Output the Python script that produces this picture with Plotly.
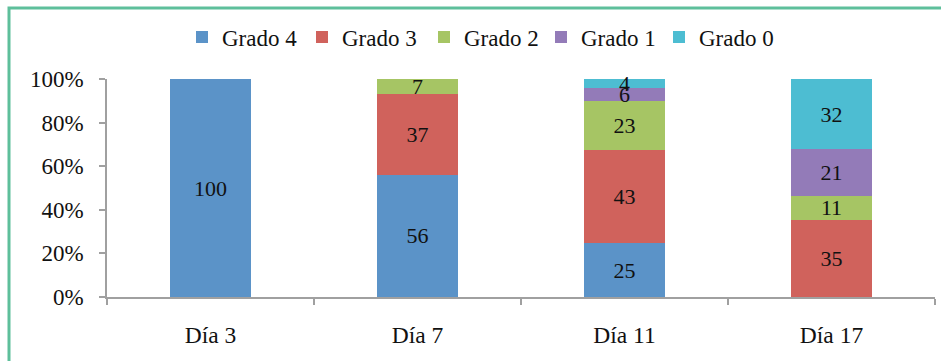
import plotly.graph_objects as go

categories = ["Día 3", "Día 7", "Día 11", "Día 17"]
series_names = ["Grado 4", "Grado 3", "Grado 2", "Grado 1", "Grado 0"]
grado4 = [100, 56, 25, 0]
grado3 = [0, 37, 43, 35]
grado2 = [0, 7, 23, 11]
grado1 = [0, 0, 6, 21]
grado0 = [0, 0, 4, 32]
colors = ["#5B93C8", "#D0625C", "#A6C564", "#937BB8", "#4DBDD2"]
ytick_vals = [0, 20, 40, 60, 80, 100]
ytick_text = ["0%", "20%", "40%", "60%", "80%", "100%"]

FONT = "Liberation Serif"

W, H = 941, 361
L, R, T, B = 107, 6, 79, 64
pw, ph = W - L - R, H - T - B

def px(x):
    return (x - L) / pw

def py(y):
    return (H - B - y) / ph

# left pixel position of each legend entry (layout)
legend_left_px = [182, 302, 424, 541, 659]
legend_ids = ["legend", "legend2", "legend3", "legend4", "legend5"]

fig = go.Figure()
for name, vals, col, lid in zip(series_names, [grado4, grado3, grado2, grado1, grado0], colors, legend_ids):
    fig.add_trace(go.Bar(
        x=categories, y=vals, name=name, marker=dict(color=col, line=dict(width=0)),
        text=[str(v) if v > 0 else "" for v in vals],
        textposition="inside", insidetextanchor="middle", textangle=0,
        textfont=dict(family=FONT, size=22, color="#111111"),
        cliponaxis=False, legend=lid,
    ))

legend_layout = {}
for lid, lx in zip(legend_ids, legend_left_px):
    legend_layout[lid] = dict(orientation="h", x=px(lx), xanchor="left", y=py(37), yanchor="middle",
                              font=dict(family=FONT, size=23, color="#111111"),
                              itemwidth=30, bgcolor="rgba(0,0,0,0)")

fig.update_layout(
    width=W, height=H,
    barmode="stack", barnorm="percent", bargap=0.61,
    margin=dict(l=L, r=R, t=T, b=B, autoexpand=False),
    paper_bgcolor="white", plot_bgcolor="white",
    font=dict(family=FONT, size=22, color="#111111"),
    uniformtext=dict(minsize=22, mode="show"),
    showlegend=True,
    xaxis=dict(showline=True, linecolor="#A0A0A0", linewidth=1.5, ticks="outside",
               tickson="boundaries", ticklen=6, tickcolor="#A0A0A0", tickwidth=1.5,
               tickfont=dict(family=FONT, size=23.5, color="#111111"), showgrid=False,
               ticklabelstandoff=16),
    yaxis=dict(range=[0, 100], tickvals=ytick_vals, ticktext=ytick_text,
               showline=True, linecolor="#A0A0A0", linewidth=1.5, ticks="outside",
               ticklen=6, tickcolor="#A0A0A0", tickwidth=1.5, showgrid=False, zeroline=False,
               tickfont=dict(family=FONT, size=23, color="#111111"),
               ticklabelstandoff=11),
    shapes=[dict(type="rect", xref="paper", yref="paper",
                 x0=px(9), x1=px(946), y0=py(366), y1=py(8),
                 line=dict(color="#5EBF9B", width=3), fillcolor="rgba(0,0,0,0)", layer="below")],
    **legend_layout,
)

fig.write_html("out.html")
